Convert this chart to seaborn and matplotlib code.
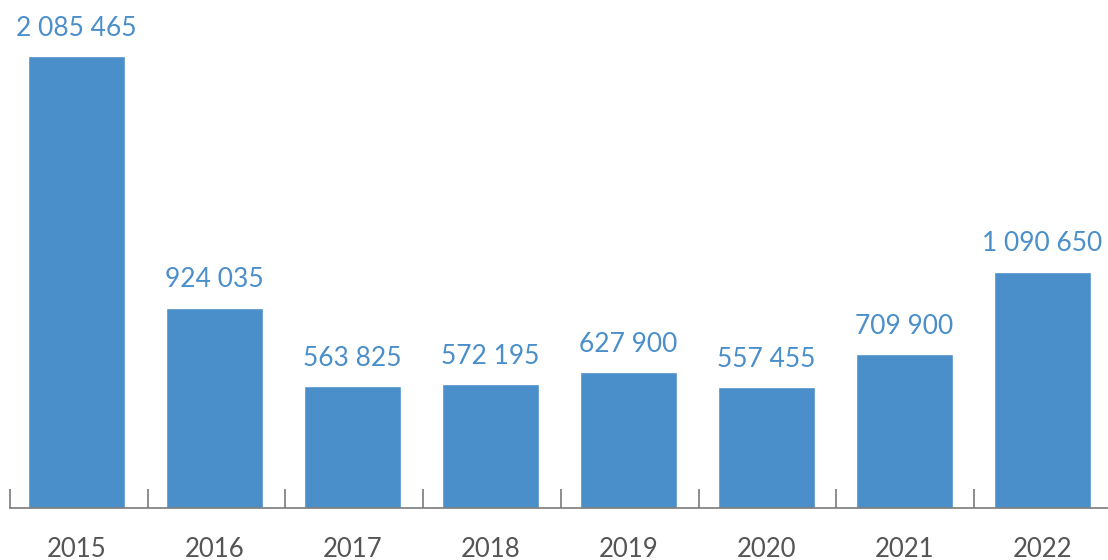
import matplotlib
matplotlib.use("Agg")
import matplotlib.pyplot as plt
import seaborn as sns
import pandas as pd
import numpy as np

years = ["2015", "2016", "2017", "2018", "2019", "2020", "2021", "2022"]
values = [2085465, 924035, 563825, 572195, 627900, 557455, 709900, 1090650]

bar_color = "#4a8eca"
axis_color = "#7a7a7a"
tick_text_color = "#555555"

sns.set_theme(style="white")
plt.rcParams["font.family"] = ["Lato", "DejaVu Sans"]

df = pd.DataFrame({"year": years, "value": values})

fig = plt.figure(figsize=(11.08, 5.60), dpi=100)
ax = fig.add_axes([10 / 1108, 52 / 560, 1098 / 1108, 508 / 560])

sns.barplot(data=df, x="year", y="value", color=bar_color, width=0.70,
            saturation=1, ax=ax)

x_min = -0.482
ax.set_xlim(x_min, x_min + 1098 / 138)
ax.set_ylim(0, 2085465 * 508 / 452)

for i, v in enumerate(values):
    label = f"{v:,}".replace(",", " ")
    ax.annotate(label, (i, v), xytext=(0, 11), textcoords="offset points",
                ha="center", va="bottom", color=bar_color, fontsize=19)

for s in ["top", "left", "right"]:
    ax.spines[s].set_visible(False)
ax.spines["bottom"].set_color(axis_color)
ax.spines["bottom"].set_linewidth(1.2)

ax.set_yticks([])
ax.set_xlabel("")
ax.set_ylabel("")
ax.set_xticks(range(len(years)))
ax.set_xticklabels(years)
ax.tick_params(axis="x", which="major", length=0, pad=21, labelsize=18.5,
               labelcolor=tick_text_color)
ax.set_xticks(x_min + np.arange(len(years)) * 0.998, minor=True)
ax.tick_params(axis="x", which="minor", direction="in", length=14,
               width=1.2, color=axis_color, bottom=True)

fig.savefig("out.png", dpi=100)
